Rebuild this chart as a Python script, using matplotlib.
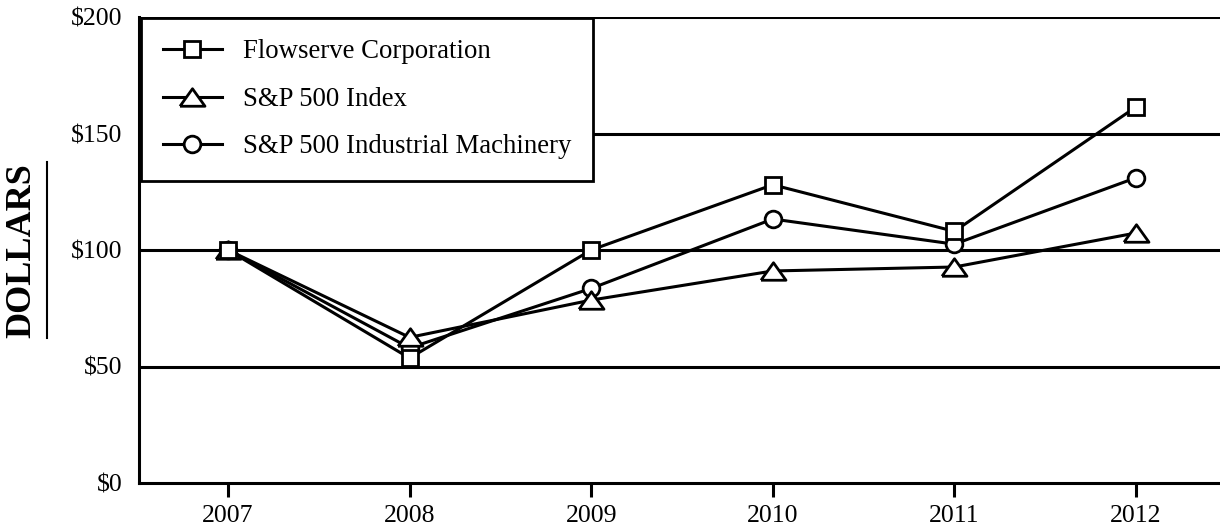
import matplotlib
matplotlib.use('Agg')
import matplotlib.pyplot as plt
from matplotlib.lines import Line2D

years = [2007, 2008, 2009, 2010, 2011, 2012]
flowserve = [100, 53.6, 100, 128, 108, 161.4]
sp500 = [100, 62.5, 78.5, 91, 92.7, 107.3]
machinery = [100, 58, 83.5, 113.3, 102.5, 131]
series_names = ['Flowserve Corporation', 'S&P 500 Index', 'S&P 500 Industrial Machinery']
y_ticks = [0, 50, 100, 150, 200]

plt.rcParams['font.family'] = ['Liberation Serif', 'DejaVu Serif']

fig = plt.figure(figsize=(12.2, 5.3), dpi=100)
ax = fig.add_axes([139 / 1220, 1 - 483 / 530, 1 - 139 / 1220 + 0.01, (483 - 17) / 530])

# horizontal grid lines
for v in y_ticks[1:]:
    ax.axhline(v, color='black', lw=2.2, zorder=1)

# wide flat triangle like the original
tri = [(-1, -0.7), (1, -0.7), (0, 0.7), (-1, -0.7)]

mk = dict(color='black', lw=2.2, markerfacecolor='white', markeredgecolor='black',
          markeredgewidth=2)
ax.plot(years, flowserve, marker='s', ms=11, label=series_names[0], zorder=5, **mk)
ax.plot(years, sp500, marker=tri, ms=18, label=series_names[1], zorder=4, **mk)
ax.plot(years, machinery, marker='o', ms=12, label=series_names[2], zorder=3, **mk)

ax.set_xlim(2006.51, 2012.53)
ax.set_ylim(0, 200)
ax.set_xticks(years)
ax.set_xticklabels([str(y) for y in years])
ax.set_yticks(y_ticks)
ax.set_yticklabels(['$' + str(v) for v in y_ticks])
ax.tick_params(axis='x', length=10, width=2.2, direction='out', labelsize=18.5, pad=6)
ax.tick_params(axis='y', length=0, labelsize=18.5, pad=12)

for s in ['top', 'right']:
    ax.spines[s].set_visible(False)
for s in ['left', 'bottom']:
    ax.spines[s].set_linewidth(2.2)

leg = ax.legend(loc='upper left', bbox_to_anchor=(0.002, 0.998), fontsize=19.3,
                fancybox=False, framealpha=1, edgecolor='black', borderpad=0.8,
                labelspacing=0.84, handlelength=2.2, handletextpad=0.8,
                borderaxespad=0.0)
leg.get_frame().set_linewidth(2)
leg.set_zorder(10)

# y label with underline
fig.text(22 / 1220, 1 - 251 / 530, 'DOLLARS', rotation=90, fontsize=26,
         fontweight='bold', ha='center', va='center')
fig.add_artist(Line2D([47 / 1220, 47 / 1220], [1 - 162 / 530, 1 - 338 / 530],
                      color='black', lw=1.5))

fig.savefig('out.png', dpi=100)
